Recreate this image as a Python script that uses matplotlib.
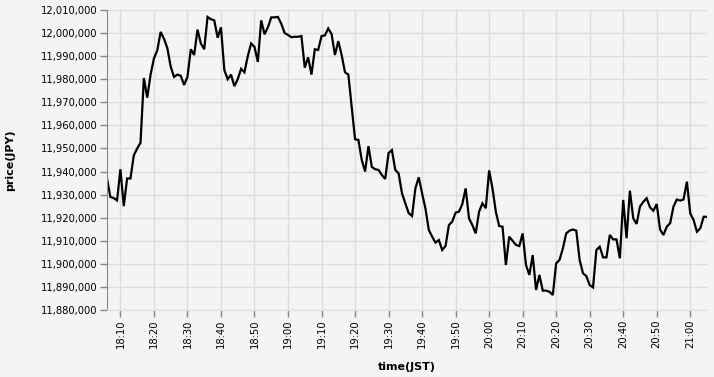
import matplotlib
matplotlib.use("Agg")
import matplotlib.pyplot as plt
import matplotlib.dates as mdates
from matplotlib.ticker import FuncFormatter, MultipleLocator
import pandas as pd

# one price per minute (JPY)
start_time = "2021-01-01 18:06"
prices = [
    11937, 11929, 11928.5, 11927.5, 11941, 11925, 11937, 11937, 11947, 11950,
    11952.5, 11980.5, 11972, 11982, 11989, 11992.5, 12000.5, 11997.5, 11993.5, 11985.5,
    11981, 11982, 11981.5, 11977.5, 11981, 11993, 11990.5, 12001.5, 11995.5, 11993,
    12007, 12006, 12005.5, 11998, 12002.5, 11984, 11980, 11982, 11977, 11980,
    11984.5, 11983, 11990, 11995.5, 11994, 11987.5, 12005.5, 11999.5, 12002.5, 12006.8,
    12006.8, 12007, 12004, 12000, 11999.2, 11998.2, 11998.4, 11998.4, 11998.7, 11985,
    11989.5, 11982, 11993, 11992.7, 11998.7, 11999, 12002, 11999.6, 11990.5, 11996.5,
    11990.5, 11983, 11982, 11968, 11954, 11953.7, 11945, 11940, 11951, 11942,
    11941, 11940.7, 11938.5, 11936.8, 11948, 11949.3, 11940.7, 11939.2, 11930.6, 11926.2,
    11922, 11920.7, 11932.7, 11937.5, 11930.6, 11924, 11914.7, 11911.8, 11909.2, 11910.3,
    11906, 11907.7, 11916.8, 11918.3, 11922.2, 11922.6, 11925.9, 11932.7, 11919.7, 11916.8,
    11913.2, 11922.6, 11926.2, 11924.1, 11940.5, 11932.7, 11922.6, 11916.4, 11916.1, 11899.5,
    11911.8, 11910, 11908.2, 11907.7, 11913.2, 11899.5, 11895.2, 11903.8, 11888.7, 11895.2,
    11888.4, 11888.4, 11887.9, 11886.5, 11900.2, 11901.7, 11906.7, 11913.2, 11914.4, 11914.9,
    11914.4, 11901.7, 11895.9, 11894.7, 11890.8, 11889.8, 11906, 11907.4, 11902.8, 11902.8,
    11912.5, 11910.6, 11910.6, 11902.4, 11927.7, 11911.1, 11931.7, 11919.7, 11917.3, 11924.8,
    11926.9, 11928.4, 11924.5, 11923, 11925.9, 11914.9, 11912.5, 11916.1, 11917.6, 11924.8,
    11927.9, 11927.4, 11927.9, 11935.6, 11921.9, 11919, 11913.9, 11915.4, 11920.4, 11920.4,
]
y_min, y_max = 11880000, 12010000

times = pd.date_range(start_time, periods=len(prices), freq="1min")
values = [p * 1000 for p in prices]

bg = "#f4f4f4"
fig = plt.figure(figsize=(7.14, 3.77), dpi=100, facecolor=bg)
ax = fig.add_axes([107 / 714, 67 / 377, 600 / 714, 300 / 377])
ax.set_facecolor(bg)

ax.plot(times, values, color="black", linewidth=1.6, solid_joinstyle="miter")

ax.set_xlim(times[0], times[-1])
ax.set_ylim(y_min, y_max)
ax.yaxis.set_major_locator(MultipleLocator(10000))
ax.yaxis.set_major_formatter(FuncFormatter(lambda v, pos: "{:,.0f}".format(v)))
ax.xaxis.set_major_locator(mdates.MinuteLocator(byminute=range(0, 60, 10)))
ax.xaxis.set_major_formatter(mdates.DateFormatter("%H:%M"))

ax.grid(True, color="#dddddd", linewidth=1)
ax.set_axisbelow(True)
for side in ["top", "right"]:
    ax.spines[side].set_visible(False)
ax.spines["left"].set_color("#888888")
ax.spines["bottom"].set_color("#dddddd")
ax.tick_params(axis="both", colors="#888888", length=5, width=1, labelsize=7.2, labelcolor="black")
ax.tick_params(axis="x", pad=2, labelrotation=90)
ax.tick_params(axis="y", pad=2)

ax.set_xlabel("time(JST)", fontsize=8, fontweight="bold", labelpad=10)
ax.set_ylabel("price(JPY)", fontsize=8, fontweight="bold", labelpad=18)

fig.savefig("out.png", dpi=100, facecolor=bg)
